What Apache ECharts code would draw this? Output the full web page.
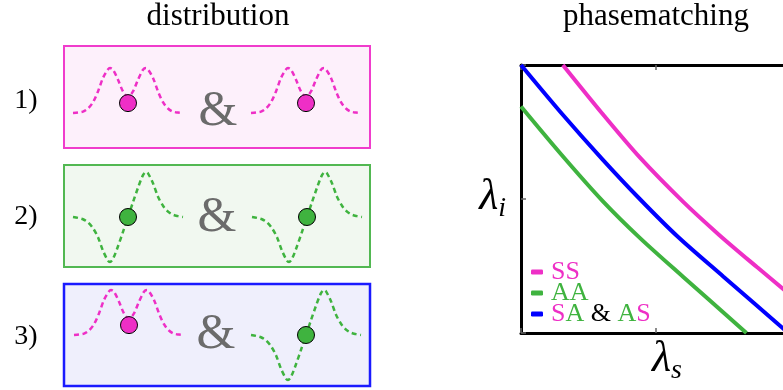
<!DOCTYPE html>
<html><head><meta charset="utf-8">
<script src="https://cdn.jsdelivr.net/npm/echarts/dist/echarts.min.js"></script>
<style>html,body{margin:0;padding:0;background:#fff}#c{width:783px;height:390px}</style>
</head><body><div id="c"></div>
<script>
// ---------- data ----------
// mode profiles (offset along the waveguide, relative field amplitude)
const profileX    = [-55,-50,-45,-40,-35,-30,-25,-20,-18,-15,-10,-5,0,5,10,15,18,20,25,30,35,40,45,50,55];
const symProfile  = [0,0.01,0.03,0.10,0.24,0.48,0.78,0.97,1.0,0.96,0.74,0.48,0.36,0.48,0.74,0.96,1.0,0.97,0.78,0.48,0.24,0.10,0.03,0.01,0];
const antiProfile = [0,-0.02,-0.05,-0.12,-0.25,-0.45,-0.75,-0.97,-1.0,-0.93,-0.65,-0.33,0,0.33,0.65,0.93,1.0,0.97,0.75,0.45,0.25,0.12,0.05,0.02,0];
const symDot  = 0.22;
const antiDot = 0;
// phasematching curves [lambda_s, lambda_i] (axis units 0..2, tick at 1)
const ssCurve = [[0.31,2.0],[0.6,1.64],[0.88,1.31],[1.2,0.98],[1.47,0.73],[1.75,0.49],[2.0,0.28]];
const saCurve = [[0,2.0],[0.3,1.64],[0.6,1.3],[0.88,1.0],[1.16,0.72],[1.5,0.42],[1.98,0]];
const aaCurve = [[0,1.69],[0.3,1.33],[0.6,0.99],[0.88,0.71],[1.2,0.42],[1.67,0]];
const seriesNames = ['SS','AA','SA & AS'];
const rowLabels = ['1)','2)','3)'];

// ---------- style / layout ----------
const PINK='#ee2fc6', GREEN='#3fb33f', BLUE='#0000ff';
const SERIF='Liberation Serif';

const waveSlots = [
  {left:73,  top:68,  kind:'sym',  color:PINK},
  {left:251, top:68,  kind:'sym',  color:PINK},
  {left:73,  top:172, kind:'anti', color:GREEN},
  {left:252, top:172, kind:'anti', color:GREEN},
  {left:74,  top:290, kind:'sym',  color:PINK},
  {left:251, top:290, kind:'anti', color:GREEN}
];

const grids=[], xAxes=[], yAxes=[], series=[];
waveSlots.forEach((w,i)=>{
  grids.push({left:w.left, top:w.top, width:110, height:90, outerBoundsMode:'none', containLabel:false});
  xAxes.push({gridIndex:i, type:'value', min:-55, max:55, show:false});
  yAxes.push({gridIndex:i, type:'value', min:-1, max:1, show:false});
  const prof = w.kind==='sym' ? symProfile : antiProfile;
  series.push({type:'line', xAxisIndex:i, yAxisIndex:i, data:profileX.map((x,k)=>[x,prof[k]]),
    smooth:0.3, showSymbol:false, symbol:'none', clip:false, silent:true, animation:false,
    lineStyle:{color:w.color, width:2.5, type:[5,3.5]}, z:2});
  series.push({type:'scatter', xAxisIndex:i, yAxisIndex:i, data:[[0, w.kind==='sym'?symDot:antiDot]],
    symbolSize:17, itemStyle:{color:w.color, borderColor:'#000', borderWidth:1, opacity:1}, z:3, silent:true, animation:false});
});

// main phasematching plot
const M = waveSlots.length;
grids.push({left:521, top:65, width:270, height:268, outerBoundsMode:'none', containLabel:false});
const frameAxis = (extra)=>Object.assign({gridIndex:M, type:'value', min:0, max:2, interval:1,
  axisLine:{show:true, onZero:false, lineStyle:{color:'#000', width:3}},
  axisTick:{show:true, inside:true, length:5, lineStyle:{color:'#666', width:1.5}},
  axisLabel:{show:false}, splitLine:{show:false}}, extra);
const lamRich = {
  l:{fontFamily:SERIF, fontStyle:'italic', fontSize:44, color:'#000', verticalAlign:'bottom', padding:[0,0,4,0]},
  s:{fontFamily:SERIF, fontStyle:'italic', fontSize:28, color:'#000', verticalAlign:'bottom'}
};
xAxes.push(frameAxis({position:'bottom', name:'{l|λ}{s|s}', nameLocation:'middle', nameGap:4,
  nameTextStyle:{rich:lamRich, padding:[0,0,0,22]}}));
xAxes.push(frameAxis({position:'top'}));
yAxes.push(frameAxis({position:'left', name:'{l|λ}{s|i}', nameLocation:'middle', nameRotate:0, nameGap:11,
  nameTextStyle:{rich:lamRich, padding:[0,4,0,0]}}));
yAxes.push(frameAxis({position:'right'}));

const curveDefs = [[seriesNames[0], ssCurve, PINK],[seriesNames[1], aaCurve, GREEN],[seriesNames[2], saCurve, BLUE]];
curveDefs.forEach(([name,data,color])=>{
  series.push({type:'line', name, xAxisIndex:M, yAxisIndex:M, data, smooth:0.3, showSymbol:false, symbol:'none',
    clip:true, animation:false, lineStyle:{color, width:4}, itemStyle:{color}, z:4});
});

const tok = (color, pad)=>({color, fontFamily:SERIF, fontSize:26, lineHeight:21, padding:[0,0,0,pad||0]});
const richLeg = { p:tok(PINK), g:tok(GREEN), k:tok('#000'), p1:tok(PINK,3), g1:tok(GREEN,3) };

const boxes = [
  {y:46,  stroke:'#f03ccc', fill:'#fdf0fb', lw:2},
  {y:165, stroke:'#52b852', fill:'#f1f8f0', lw:2},
  {y:284, stroke:'#1a1aff', fill:'#efeffc', lw:2.5}
];
const rowY = [101, 217, 337];
const ampPos = [[218,112],[217,218],[216,335]];

const graphics = [];
boxes.forEach(b=>graphics.push({type:'rect', z:0, silent:true,
  shape:{x:64, y:b.y, width:306, height:102}, style:{fill:b.fill, stroke:b.stroke, lineWidth:b.lw}}));
function txt(text,x,y,size,color){
  return {type:'text', z:1, silent:true, x, y, style:{text, x:0, y:0, fontSize:size, fontFamily:SERIF,
    fill:color, align:'center', verticalAlign:'middle'}};
}
graphics.push(txt('distribution',218,17,31,'#000'));
graphics.push(txt('phasematching',656,17,31,'#000'));
rowLabels.forEach((t,i)=>graphics.push(txt(t,26,rowY[i],28,'#000')));
ampPos.forEach(p=>graphics.push(txt('&',p[0],p[1],50,'#6b6b6b')));

const chart = echarts.init(document.getElementById('c'), null, {renderer:'canvas'});
chart.setOption({
  animation:false,
  backgroundColor:'#fff',
  textStyle:{fontFamily:SERIF},
  grid:grids, xAxis:xAxes, yAxis:yAxes, series,
  legend:{data:seriesNames, orient:'vertical', left:531, top:259, padding:0,
    itemWidth:12, itemHeight:5, icon:'roundRect', itemGap:-5, selectedMode:false,
    formatter:function(n){
      if(n==='SS') return '{p1|S}{p|S}';
      if(n==='AA') return '{g1|A}{g|A}';
      return '{p1|S}{g|A} {k|&} {g|A}{p|S}';
    },
    textStyle:{fontFamily:SERIF, fontSize:26, lineHeight:21, color:'#000', rich:richLeg}},
  graphic:graphics
});
</script></body></html>
